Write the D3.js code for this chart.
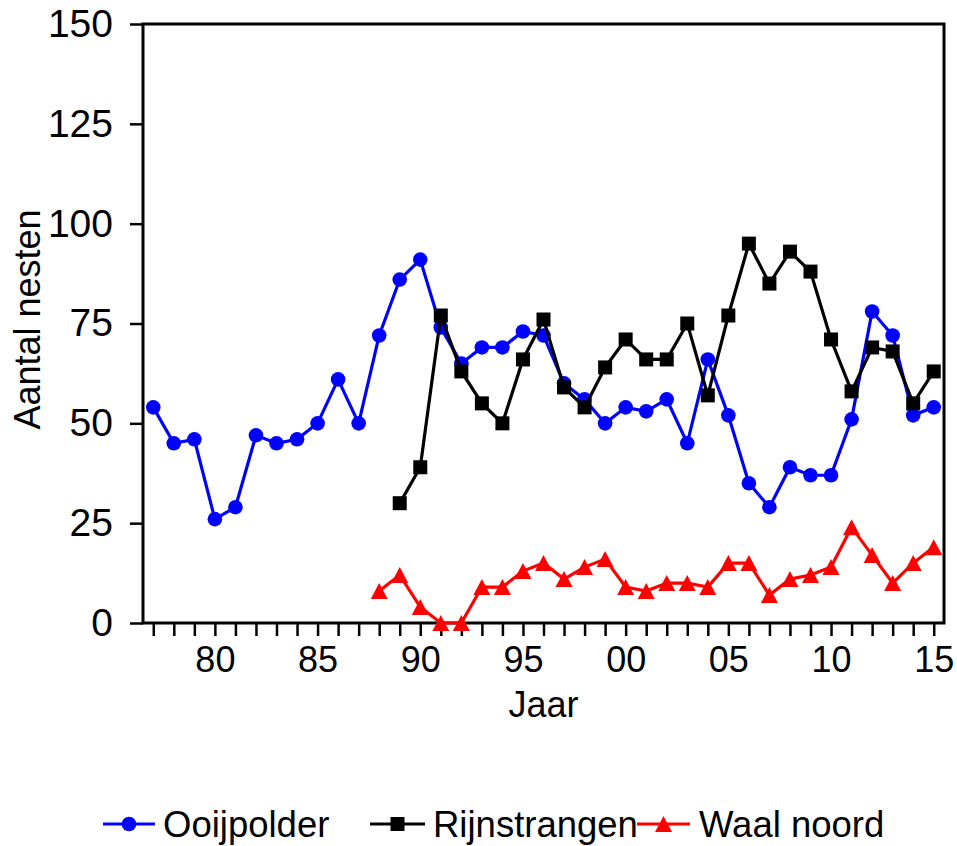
<!DOCTYPE html>
<html>
<head>
<meta charset="utf-8">
<script src="https://cdn.jsdelivr.net/npm/d3@7"></script>
<style>
  html, body { margin: 0; padding: 0; background: #fff; }
  svg { display: block; }
  text { font-family: "Liberation Sans", Arial, sans-serif; fill: #000; }
</style>
</head>
<body>
<svg id="chart" width="957" height="846"></svg>
<script>
// ---- data ----
const yearsOoij = d3.range(1977, 2016);
const ooijpolder = [54, 45, 46, 26, 29, 47, 45, 46, 50, 61, 50, 72, 86, 91, 74, 65, 69, 69, 73, 72,
                    60, 56, 50, 54, 53, 56, 45, 66, 52, 35, 29, 39, 37, 37, 51, 78, 72, 52, 54];
const yearsRijn = d3.range(1989, 2016);
const rijnstrangen = [30, 39, 77, 63, 55, 50, 66, 76, 59, 54, 64, 71, 66, 66, 75, 57, 77, 95, 85, 93,
                      88, 71, 58, 69, 68, 55, 63];
const yearsWaal = d3.range(1988, 2016);
const waalNoord = [8, 12, 4, 0, 0, 9, 9, 13, 15, 11, 14, 16, 9, 8, 10, 10, 9, 15, 15, 7, 11, 12, 14, 24,
                   17, 10, 15, 19];
const yTicks = [0, 25, 50, 75, 100, 125, 150];
const xTickYears = [1980, 1985, 1990, 1995, 2000, 2005, 2010, 2015];
const xTickLabels = ["80", "85", "90", "95", "00", "05", "10", "15"];
const seriesNames = ["Ooijpolder", "Rijnstrangen", "Waal noord"];
const seriesColors = ["#0000ff", "#000000", "#ff0000"];

// ---- layout ----
const svg = d3.select("#chart");
const L = 143, R = 944, T = 24, B = 623;
const x = d3.scaleLinear().domain([1976.5, 2015.5]).range([L, R]);
const y = d3.scaleLinear().domain([0, 150]).range([B, T]);

// frame
svg.append("rect").attr("x", L).attr("y", T).attr("width", R - L).attr("height", B - T)
  .attr("fill", "none").attr("stroke", "#000").attr("stroke-width", 3);

// y axis
const yAxis = svg.append("g").attr("transform", `translate(${L},0)`)
  .call(d3.axisLeft(y).tickValues(yTicks).tickSize(13).tickPadding(17).tickFormat(d3.format("d")));
yAxis.select(".domain").remove();
yAxis.selectAll(".tick line").attr("stroke", "#000").attr("stroke-width", 2.5);
yAxis.selectAll(".tick text").attr("font-size", 39).attr("font-family", "Liberation Sans, Arial, sans-serif");

// x axis: minor ticks every year, labels every 5
const xAxis = svg.append("g").attr("transform", `translate(0,${B})`)
  .call(d3.axisBottom(x).tickValues(d3.range(1977, 2016)).tickSize(13).tickPadding(10)
    .tickFormat(d => { const i = xTickYears.indexOf(d); return i >= 0 ? xTickLabels[i] : ""; }));
xAxis.select(".domain").remove();
xAxis.selectAll(".tick line").attr("stroke", "#000").attr("stroke-width", 2.5);
xAxis.selectAll(".tick text").attr("font-size", 36).attr("font-family", "Liberation Sans, Arial, sans-serif");

// axis titles
svg.append("text").attr("x", (L + R) / 2).attr("y", 717).attr("text-anchor", "middle")
  .attr("font-size", 36).text("Jaar");
svg.append("text").attr("transform", `translate(40,${(T + B) / 2 - 4}) rotate(-90)`)
  .attr("text-anchor", "middle").attr("font-size", 36).text("Aantal nesten");

// marker helpers
function drawMarker(g, type, cx, cy, color) {
  if (type === 0) {
    g.append("circle").attr("cx", cx).attr("cy", cy).attr("r", 7.3).attr("fill", color);
  } else if (type === 1) {
    g.append("rect").attr("x", cx - 7).attr("y", cy - 7).attr("width", 14).attr("height", 14).attr("fill", color);
  } else {
    const w = 17, h = 16;
    g.append("path").attr("d", `M${cx},${cy - h / 2}L${cx + w / 2},${cy + h / 2}L${cx - w / 2},${cy + h / 2}Z`)
      .attr("fill", color);
  }
}

const series = [
  { years: yearsOoij, vals: ooijpolder },
  { years: yearsRijn, vals: rijnstrangen },
  { years: yearsWaal, vals: waalNoord }
];
const line = d3.line().x(d => x(d[0])).y(d => y(d[1]));
series.forEach((s, i) => {
  const pts = s.years.map((yr, j) => [yr, s.vals[j]]);
  const g = svg.append("g");
  g.append("path").attr("d", line(pts)).attr("fill", "none").attr("stroke", seriesColors[i])
    .attr("stroke-width", 3.2).attr("stroke-linejoin", "miter");
  pts.forEach(p => drawMarker(g, i, x(p[0]), y(p[1]), seriesColors[i]));
});

// legend
const legY = 824;
const legItems = [
  { x1: 103, x2: 155, tx: 163 },
  { x1: 370, x2: 425, tx: 433 },
  { x1: 637, x2: 690, tx: 699 }
];
legItems.forEach((it, i) => {
  const g = svg.append("g");
  g.append("line").attr("x1", it.x1).attr("x2", it.x2).attr("y1", legY).attr("y2", legY)
    .attr("stroke", seriesColors[i]).attr("stroke-width", 3.2);
  drawMarker(g, i, (it.x1 + it.x2) / 2, legY, seriesColors[i]);
  g.append("text").attr("x", it.tx).attr("y", legY + 13).attr("font-size", 36.5).text(seriesNames[i]);
});
</script>
</body>
</html>
